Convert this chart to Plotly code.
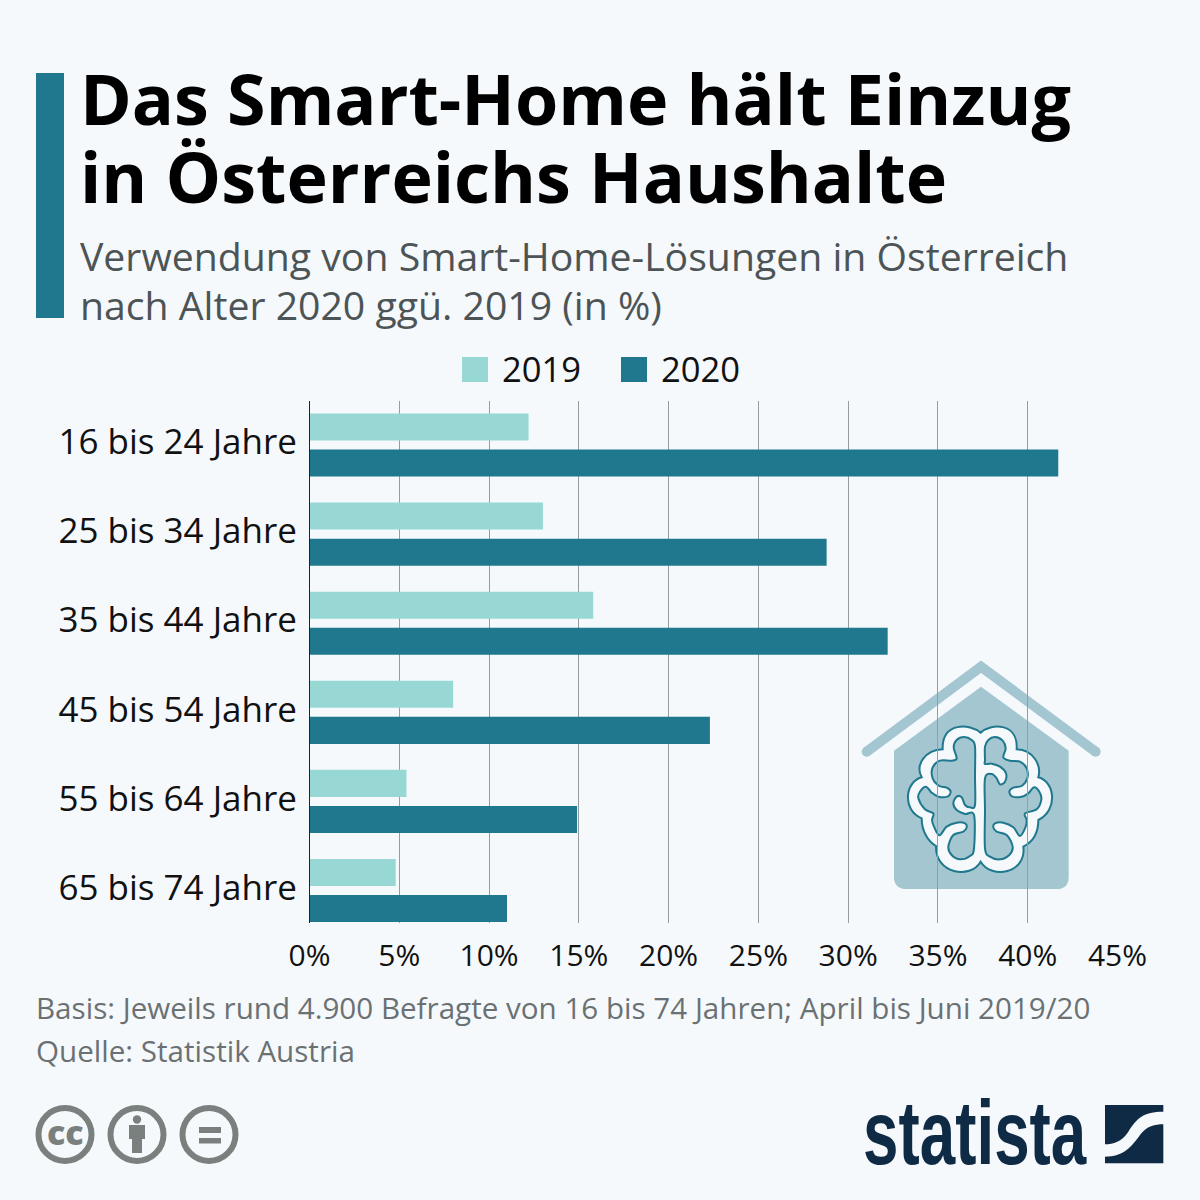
import plotly.graph_objects as go

categories = ["16 bis 24 Jahre", "25 bis 34 Jahre", "35 bis 44 Jahre",
              "45 bis 54 Jahre", "55 bis 64 Jahre", "65 bis 74 Jahre"]
values_2019 = [12.2, 13.0, 15.8, 8.0, 5.4, 4.8]
values_2020 = [41.7, 28.8, 32.2, 22.3, 14.9, 11.0]
tick_values = [0, 5, 10, 15, 20, 25, 30, 35, 40, 45]
tick_labels = [f"{v}%" for v in tick_values]

BG = "#f5f9fc"
C19 = "#97d8d5"
C20 = "#1f788d"
ICON = "#a3c6d1"
GREY = "#7a807e"
NAVY = "#0f2a45"
FONT = "Open Sans"
W = H = 1200


def px(x):
    return x / W


def py(y):
    return 1 - y / H


def P(x, y):
    return f"{px(x):.5f},{py(y):.5f}"


def rect(x0, y0, x1, y1, color, layer="above"):
    return dict(type="rect", xref="paper", yref="paper", x0=px(x0), x1=px(x1),
                y0=py(y1), y1=py(y0), fillcolor=color, line_width=0, layer=layer)


def circle(cx, cy, r, fill, line_color=None, lw=0, layer="above"):
    return dict(type="circle", xref="paper", yref="paper", x0=px(cx - r), x1=px(cx + r),
                y0=py(cy + r), y1=py(cy - r), fillcolor=fill,
                line=dict(color=line_color or fill, width=lw), layer=layer)


def z(pts, ox=850, oy=650):
    """zoom-crop coordinates to page pixels"""
    return [(ox + a / 3, oy + b / 3) for a, b in pts]


def Z(x, y):
    return P(850 + x / 3, 650 + y / 3)


def smooth(pts):
    """closed Catmull-Rom spline as SVG path"""
    n = len(pts)
    d = "M" + P(*pts[0])
    for i in range(n):
        p0, p1, p2, p3 = pts[i - 1], pts[i], pts[(i + 1) % n], pts[(i + 2) % n]
        c1 = (p1[0] + (p2[0] - p0[0]) / 6, p1[1] + (p2[1] - p0[1]) / 6)
        c2 = (p2[0] - (p3[0] - p1[0]) / 6, p2[1] - (p3[1] - p1[1]) / 6)
        d += "C" + P(*c1) + " " + P(*c2) + " " + P(*p2)
    return d + "Z"


lobes = [((360, 220), (275, 215), (278, 298)),
         ((225, 300), (195, 345), (215, 382)),
         ((165, 395), (155, 480), (215, 505)),
         ((215, 545), (235, 575), (258, 588)),
         ((255, 670), (360, 690), (392, 635)),
         ((425, 690), (530, 670), (520, 590)),
         ((550, 575), (565, 545), (565, 510)),
         ((625, 480), (615, 395), (565, 382)),
         ((575, 345), (550, 300), (500, 298)),
         ((505, 215), (420, 220), (392, 248))]
outer_path = "M" + Z(392, 248) + "".join("C" + Z(*a) + " " + Z(*b) + " " + Z(*c) for a, b, c in lobes) + "Z"

left = [(375, 465), (375, 380), (375, 290), (365, 270), (342, 261), (320, 270), (311, 292), (320, 325),
        (305, 332), (270, 332), (248, 352), (248, 385), (268, 408), (290, 413), (302, 425), (292, 440),
        (265, 440), (245, 428), (228, 410), (210, 425), (205, 445), (225, 478), (250, 490), (246, 510),
        (252, 530), (268, 556), (290, 530), (320, 518), (345, 520), (350, 532), (340, 545), (310, 555),
        (295, 590), (305, 615), (330, 628), (360, 618), (372, 595), (372, 495), (345, 492), (320, 480),
        (310, 460), (320, 440), (335, 442), (345, 465), (360, 472)]
right = [(405, 330), (405, 290), (415, 270), (435, 261), (458, 272), (467, 295), (460, 322), (480, 332),
         (510, 335), (530, 355), (532, 385), (515, 408), (490, 413), (478, 425), (488, 440), (515, 440),
         (535, 430), (552, 412), (568, 425), (574, 448), (560, 478), (525, 490), (530, 510), (527, 530),
         (510, 558), (490, 532), (460, 518), (435, 520), (430, 532), (440, 545), (470, 555), (488, 590),
         (478, 615), (450, 628), (420, 620), (405, 595), (405, 480), (405, 385), (425, 372), (440, 385),
         (450, 403), (465, 395), (468, 370), (450, 350), (425, 341), (405, 342)]

hx, hy = zip(*z([(132, 302), (393, 110), (656, 302), (656, 680), (656, 717), (620, 717),
                 (170, 717), (132, 717), (132, 680)]))
house = ("M" + P(hx[0], hy[0]) + "L" + P(hx[1], hy[1]) + "L" + P(hx[2], hy[2]) + "L" + P(hx[3], hy[3])
         + "Q" + P(hx[4], hy[4]) + " " + P(hx[5], hy[5]) + "L" + P(hx[6], hy[6])
         + "Q" + P(hx[7], hy[7]) + " " + P(hx[8], hy[8]) + "Z")
rx, ry = zip(*z([(50, 305), (393, 50), (737, 305)]))
roof = "M" + P(rx[0], ry[0]) + "L" + P(rx[1], ry[1]) + "L" + P(rx[2], ry[2])


def path(d, fill="rgba(0,0,0,0)", lc=None, lw=0, layer="below"):
    return dict(type="path", xref="paper", yref="paper", path=d, fillcolor=fill,
                line=dict(color=lc or fill, width=lw), layer=layer)


# Statista mark (crop at 850,1090)
def m(x, y):
    return P(850 + x / 3, 1090 + y / 3)


mark1 = ("M" + m(765, 45) + "L" + m(940, 45) + "L" + m(940, 65) + "C" + m(880, 65) + " " + m(860, 85) + " " + m(835, 125)
         + "C" + m(815, 155) + " " + m(790, 163) + " " + m(765, 163) + "Z")
mark2 = ("M" + m(940, 103) + "L" + m(940, 220) + "L" + m(765, 220) + "L" + m(765, 200) + "C" + m(820, 200) + " " + m(845, 170)
         + " " + m(870, 135) + "C" + m(890, 108) + " " + m(915, 103) + " " + m(940, 103) + "Z")

shapes = [
    rect(36, 73, 64, 318, C20),
    rect(462, 357, 488, 382, C19),
    rect(621, 357, 647, 382, C20),
    path(roof, lc=ICON, lw=10),
    circle(rx[0], ry[0], 5, ICON, layer="below"),
    circle(rx[1], ry[1] + 1, 5, ICON, layer="below"),
    circle(rx[2], ry[2], 5, ICON, layer="below"),
    path(house, fill=ICON),
    path(outer_path, fill="#f5f9fc", lc=C20, lw=2),
    path(smooth(z(left)), fill=ICON, lc=C20, lw=2),
    path(smooth(z(right)), fill=ICON, lc=C20, lw=2),
    circle(65, 1134.5, 26.5, "rgba(0,0,0,0)", GREY, 6),
    circle(137, 1134.5, 26.5, "rgba(0,0,0,0)", GREY, 6),
    circle(209, 1134.5, 26.5, "rgba(0,0,0,0)", GREY, 6),
    circle(137, 1119.5, 4.2, GREY),
    rect(129, 1125, 145, 1139, GREY),
    rect(132, 1139, 142, 1153, GREY),
    rect(199, 1127, 221, 1133, GREY),
    rect(199, 1138, 221, 1143.5, GREY),
    path(mark1, fill=NAVY, layer="above"),
    path(mark2, fill=NAVY, layer="above"),
]


def txt(s, x, y, size, color, weight=400, anchor="left", family=FONT):
    return dict(text=s, x=px(x), y=py(y), xref="paper", yref="paper", xanchor=anchor, yanchor="middle",
                showarrow=False, align="left", borderpad=0,
                font=dict(size=size, color=color, family=family, weight=weight))


annotations = [
    txt("Das Smart-Home hält Einzug", 78.5, 97.5, 70, "#000000", 700),
    txt("in Österreichs Haushalte", 78.5, 176, 70, "#000000", 700),
    txt("Verwendung von Smart-Home-Lösungen in Österreich", 78.5, 255, 39.2, "#4d5456"),
    txt("nach Alter 2020 ggü. 2019 (in %)", 78.5, 304, 39.2, "#4d5456"),
    txt("2019", 501, 368, 34.6, "#111111"),
    txt("2020", 660, 368, 34.6, "#111111"),
    txt("Basis: Jeweils rund 4.900 Befragte von 16 bis 74 Jahren; April bis Juni 2019/20", 35, 1007.5, 29.6, "#6b7173"),
    txt("Quelle: Statistik Austria", 35, 1050, 29.6, "#6b7173"),
    txt("cc", 65, 1132, 34, GREY, 800, "center"),
    txt("statista", 862, 1133, 90, NAVY, 700, "left", "Liberation Sans"),
]

fig = go.Figure()
fig.add_bar(name="2019", y=categories, x=values_2019, orientation="h", marker_color=C19, marker_line_width=0)
fig.add_bar(name="2020", y=categories, x=values_2020, orientation="h", marker_color=C20, marker_line_width=0)

fig.update_layout(
    width=W, height=H, autosize=False,
    margin=dict(l=0, r=0, t=0, b=0, autoexpand=False),
    paper_bgcolor=BG, plot_bgcolor="rgba(0,0,0,0)",
    barmode="group", bargap=0.19, bargroupgap=0.25,
    showlegend=False,
    font=dict(family=FONT, color="#111111"),
    shapes=shapes, annotations=annotations,
    xaxis=dict(domain=[px(309.5), px(1117.5)], range=[0, 45], tickvals=tick_values, ticktext=tick_labels,
               showgrid=True, gridcolor="#999c9c", gridwidth=1, zeroline=False,
               tickfont=dict(size=30, color="#111111"), ticks="outside", ticklen=6, tickcolor="rgba(0,0,0,0)",
               anchor="y", fixedrange=True),
    yaxis=dict(domain=[py(923), py(400.5)], range=[5.365, -0.5], type="category", categoryorder="array",
               categoryarray=categories, showgrid=False, showline=True, linecolor="#222222", linewidth=1,
               tickfont=dict(size=35, color="#111111"), ticks="outside", ticklen=4.5, tickcolor="rgba(0,0,0,0)",
               ticklabelshift=3, fixedrange=True),
)

# The Statista wordmark is a condensed face: squeeze the real text element horizontally to its width.
squeeze = """
document.body.style.margin='0';document.body.style.overflow='hidden';
document.querySelectorAll('.annotation-text').forEach(function(t){
  if(t.textContent==='statista'){
    var b=t.getBBox();
    t.setAttribute('transform','translate('+b.x+',0) scale('+(224/b.width)+',1) translate('+(-b.x)+',0)');
  }
});
"""
fig.write_html("out.html", post_script=squeeze, config=dict(displayModeBar=False))
